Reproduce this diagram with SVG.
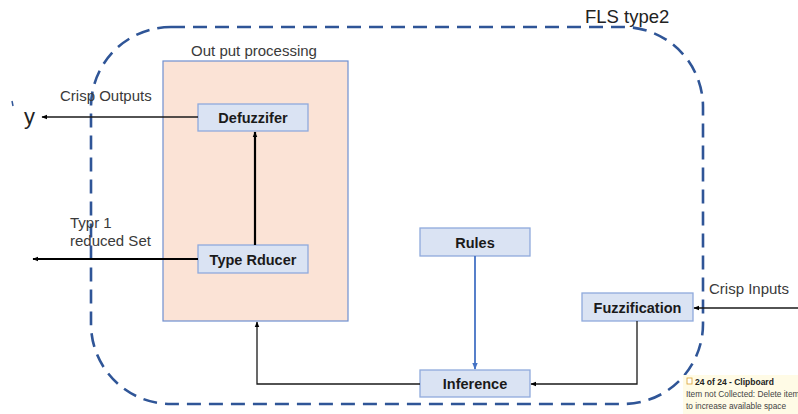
<svg xmlns="http://www.w3.org/2000/svg" width="798" height="414" viewBox="0 0 798 414">
<style>
.box{fill:#dae3f3;stroke:#8faadc;stroke-width:1.3}
.lbl{font-family:"Liberation Sans",Arial,sans-serif;font-weight:bold;font-size:14.5px;fill:#1a1a1a;text-anchor:middle}
.txt{font-family:"Liberation Sans",Arial,sans-serif;font-size:15px;fill:#3a3a3a}
.ln{fill:none;stroke:#1a1a1a;stroke-width:1.3}
.thick{fill:none;stroke:#000;stroke-width:2.2}
</style>
<defs>
<marker id="ah" viewBox="0 0 10 10" refX="9" refY="5" markerWidth="6" markerHeight="6" orient="auto" markerUnits="userSpaceOnUse"><path d="M0,1 L10,5 L0,9 z" fill="#000"/></marker>
<marker id="ahb" viewBox="0 0 10 10" refX="9" refY="5" markerWidth="7" markerHeight="7" orient="auto" markerUnits="userSpaceOnUse"><path d="M0,1 L10,5 L0,9 z" fill="#4472c4"/></marker>
</defs>
<rect width="798" height="414" fill="#fff"/>
<g id="fls">
<rect x="91" y="27" width="612" height="377" rx="80" ry="80" fill="none" stroke="#2f5597" stroke-width="2.6" stroke-dasharray="14,8"/>
<text x="585" y="23" font-family="Liberation Sans,Arial,sans-serif" font-size="18.5" fill="#222">FLS type2</text>
</g>
<g id="output-processing">
<rect x="163" y="61" width="185" height="260" fill="#fbe3d6" stroke="#6f8fd0" stroke-width="1.2"/>
<text x="254" y="56" class="txt" text-anchor="middle" fill="#222" font-size="16">Out put processing</text>
</g>
<g id="defuzzifer"><rect class="box" x="198" y="104" width="110" height="27"/><text class="lbl" x="253" y="122.5">Defuzzifer</text></g>
<g id="type-rducer"><rect class="box" x="198" y="245" width="110" height="28"/><text class="lbl" x="253" y="264.5">Type Rducer</text></g>
<g id="rules"><rect class="box" x="420" y="228" width="110" height="28"/><text class="lbl" x="475" y="247.5">Rules</text></g>
<g id="inference"><rect class="box" x="420" y="370" width="110" height="27"/><text class="lbl" x="475" y="389">Inference</text></g>
<g id="fuzzification"><rect class="box" x="582" y="293" width="111" height="28"/><text class="lbl" x="637.5" y="312.5">Fuzzification</text></g>
<g id="connectors">
<line class="ln" x1="198" y1="117" x2="42" y2="117" marker-end="url(#ah)"/>
<line class="thick" x1="198" y1="259" x2="33" y2="259" marker-end="url(#ah)"/>
<line class="thick" x1="255" y1="245" x2="255" y2="132" marker-end="url(#ah)"/>
<line x1="475" y1="256" x2="475" y2="369" fill="none" stroke="#4472c4" stroke-width="1.8" marker-end="url(#ahb)"/>
<polyline class="ln" points="637,321 637,384 531,384" marker-end="url(#ah)"/>
<polyline class="ln" points="420,384 257,384 257,322" marker-end="url(#ah)"/>
<line class="ln" x1="798" y1="308" x2="694" y2="308" marker-end="url(#ah)"/>
</g>
<g id="labels">
<text x="24" y="124" font-family="Liberation Sans,Arial,sans-serif" font-size="22" fill="#222">y</text>
<path d="M12,101 l1,5" stroke="#2f5597" stroke-width="1.5" fill="none"/>
<text x="60" y="101" class="txt">Crisp Outputs</text>
<text x="70" y="228" class="txt">Typr 1</text>
<text x="70" y="246" class="txt">reduced Set</text>
<text x="709" y="294" class="txt" font-size="16">Crisp Inputs</text>
</g>
<g id="clipboard">
<rect x="683" y="375" width="115" height="39" fill="#fffbe6"/>
<rect x="687" y="378" width="5" height="6" fill="#fff" stroke="#d9a030" stroke-width="0.8"/>
<text x="695" y="385" font-family="Liberation Sans,Arial,sans-serif" font-size="8.5" font-weight="bold" fill="#222">24 of 24 - Clipboard</text>
<text x="686" y="397" font-family="Liberation Sans,Arial,sans-serif" font-size="8.3" fill="#444">Item not Collected: Delete item</text>
<text x="686" y="409" font-family="Liberation Sans,Arial,sans-serif" font-size="8.3" fill="#444">to increase available space</text>
</g>
</svg>
